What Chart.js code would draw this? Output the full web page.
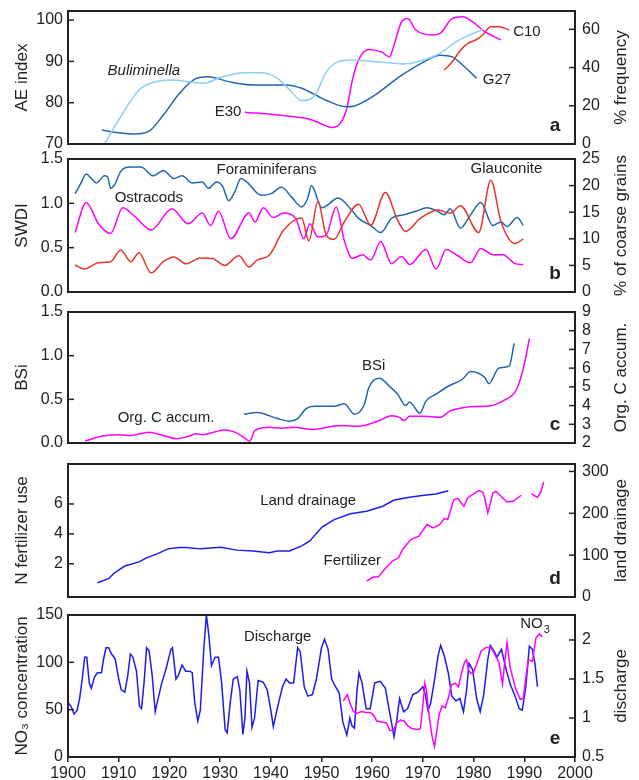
<!DOCTYPE html>
<html>
<head>
<meta charset="utf-8">
<script src="https://cdn.jsdelivr.net/npm/chart.js@4.4.1/dist/chart.umd.min.js"></script>
<style>
  body { margin: 0; background: #fff; }
  #wrap { position: relative; width: 639px; height: 780px; overflow: hidden; }
  #wrap canvas { position: absolute; left: 0; }
</style>
</head>
<body>
<div id="wrap">
  <canvas id="panelA" width="639" height="175"></canvas>
  <canvas id="panelB" width="639" height="175"></canvas>
  <canvas id="panelC" width="639" height="175"></canvas>
  <canvas id="panelD" width="639" height="175"></canvas>
  <canvas id="panelE" width="639" height="185"></canvas>
</div>
<script>
// tick values
var decadeTicks = [1900, 1910, 1920, 1930, 1940, 1950, 1960, 1970, 1980, 1990, 2000];
var aeTicks = [70, 80, 90, 100];
var freqTicks = [0, 20, 40, 60];
var swdiTicks = [0, 0.5, 1, 1.5];
var coarseTicks = [0, 5, 10, 15, 20, 25];
var bsiTicks = [0, 0.5, 1, 1.5];
var orgCTicks = [2, 3, 4, 5, 6, 7, 8, 9];
var fertTicks = [2, 4, 6];
var drainTicks = [0, 100, 200, 300];
var no3Ticks = [0, 50, 100, 150];
var dischTicks = [0.5, 1, 1.5, 2];

// panel a
var g27Year = [1906.7, 1910.0, 1913.2, 1916.0, 1918.8, 1922.0, 1925.3, 1927.7, 1931.7, 1936.5, 1942.9, 1946.1, 1950.9, 1954.9, 1956.5, 1960.6, 1965.4, 1970.2, 1973.4, 1975.8, 1978.2, 1980.6];
var g27AE = [73.4, 72.7, 72.4, 73.1, 77.0, 82.3, 85.9, 86.3, 85.1, 84.3, 84.3, 83.5, 80.6, 79.0, 79.2, 81.9, 86.3, 89.9, 91.5, 91.1, 88.7, 85.9];
var bulimYear = [1907.2, 1910.8, 1914.0, 1917.2, 1920.5, 1923.7, 1926.9, 1930.1, 1934.9, 1938.1, 1941.3, 1943.7, 1946.1, 1948.5, 1951.0, 1953.3, 1955.7, 1960.6, 1966.2, 1970.2, 1973.4, 1976.6, 1981.8];
var bulimFreq = [0, 16.1, 28.3, 32.6, 33.5, 32.6, 31.8, 34.9, 37.3, 37.3, 34.4, 28.3, 22.7, 24.8, 37.9, 43.1, 44.0, 43.1, 41.9, 44.0, 47.5, 53.6, 60.0];
var e30Year = [1934.9, 1941.3, 1947.7, 1950.1, 1952.1, 1953.7, 1954.9, 1956.1, 1957.3, 1959.3, 1961.8, 1963.4, 1964.2, 1965.8, 1967.0, 1968.6, 1971.8, 1973.4, 1975.8, 1977.8, 1979.8, 1982.2, 1985.4];
var e30AE = [77.7, 77.0, 76.0, 74.8, 74.0, 75.0, 78.2, 85.5, 90.3, 92.9, 92.3, 91.1, 93.5, 99.6, 100.4, 97.6, 96.4, 96.8, 100.4, 100.8, 99.6, 97.2, 95.2];
var c10Year = [1974.2, 1975.8, 1977.4, 1979.0, 1980.6, 1981.8, 1983.4, 1985.0, 1987.0];
var c10AE = [87.9, 89.9, 92.7, 94.4, 95.3, 96.4, 98.4, 98.4, 97.6];

// panel b
var foramYear = [1901.4, 1902.4, 1903.6, 1904.6, 1905.6, 1907.2, 1907.8, 1908.4, 1909.2, 1910.4, 1912.4, 1914.4, 1916.8, 1918.8, 1920.9, 1922.5, 1924.5, 1926.5, 1927.7, 1929.3, 1930.5, 1931.7, 1932.9, 1934.1, 1935.3, 1938.1, 1940.1, 1942.1, 1944.1, 1946.1, 1947.3, 1948.0, 1950.1, 1953.3, 1955.7, 1957.3, 1959.7, 1961.7, 1963.8, 1966.2, 1968.6, 1970.8, 1972.9, 1974.2, 1975.4, 1977.4, 1979.4, 1981.4, 1983.8, 1985.4, 1986.6, 1988.6, 1989.8];
var foramSWDI = [1.11, 1.21, 1.33, 1.28, 1.23, 1.31, 1.30, 1.17, 1.21, 1.36, 1.41, 1.41, 1.31, 1.37, 1.28, 1.31, 1.23, 1.24, 1.17, 1.24, 1.19, 1.03, 1.13, 1.28, 1.24, 1.09, 1.11, 1.18, 1.07, 0.96, 1.06, 1.20, 0.95, 1.06, 0.94, 0.83, 0.75, 0.67, 0.83, 0.87, 0.91, 0.95, 0.91, 0.87, 0.94, 0.72, 0.87, 1.01, 0.75, 0.79, 0.74, 0.84, 0.75];
var ostraYear = [1901.4, 1903.6, 1906.0, 1908.4, 1910.8, 1913.2, 1916.4, 1920.5, 1923.7, 1926.5, 1928.1, 1929.7, 1932.1, 1935.7, 1936.9, 1938.5, 1940.5, 1942.5, 1944.9, 1946.5, 1947.7, 1949.3, 1950.9, 1952.9, 1954.5, 1956.1, 1958.1, 1959.7, 1961.7, 1963.8, 1965.8, 1967.4, 1970.6, 1972.6, 1974.6, 1976.6, 1979.4, 1981.4, 1983.8, 1985.8, 1988.2, 1989.8];
var ostraSWDI = [0.67, 1.01, 0.77, 0.66, 0.95, 0.85, 0.70, 0.94, 0.77, 0.89, 0.75, 0.91, 0.60, 0.89, 0.79, 0.95, 0.84, 0.89, 0.83, 0.60, 0.77, 0.62, 0.64, 0.96, 0.58, 0.38, 0.42, 0.36, 0.57, 0.32, 0.40, 0.31, 0.48, 0.26, 0.48, 0.42, 0.33, 0.49, 0.42, 0.42, 0.32, 0.31];
var glaucYear = [1901.4, 1903.2, 1906.0, 1908.4, 1910.4, 1912.4, 1914.0, 1916.4, 1918.8, 1920.9, 1923.3, 1926.1, 1928.5, 1930.9, 1933.7, 1935.7, 1937.3, 1939.7, 1942.5, 1946.1, 1947.5, 1949.3, 1950.9, 1952.5, 1954.5, 1957.3, 1959.7, 1962.6, 1965.0, 1966.6, 1969.4, 1973.0, 1975.4, 1977.4, 1981.0, 1983.4, 1985.4, 1988.2, 1989.8];
var glaucPct = [5.1, 4.3, 5.5, 5.7, 7.9, 5.7, 7.4, 3.6, 5.7, 6.6, 5.3, 6.4, 6.3, 5.0, 6.8, 4.7, 6.0, 6.9, 11.6, 13.9, 9.6, 17.0, 10.8, 9.9, 13.2, 16.5, 12.6, 18.7, 13.5, 11.4, 13.8, 15.4, 14.8, 16.2, 11.2, 21.0, 13.2, 9.1, 10.0];

// panel c
var bsiYear = [1934.7, 1937.3, 1941.3, 1943.7, 1945.3, 1946.9, 1948.5, 1952.5, 1954.5, 1956.5, 1958.5, 1959.3, 1961.4, 1963.4, 1965.0, 1966.6, 1967.4, 1968.2, 1969.4, 1970.6, 1972.6, 1975.0, 1977.8, 1979.4, 1982.2, 1983.0, 1985.0, 1987.0, 1988.0];
var bsiVal = [0.33, 0.35, 0.28, 0.25, 0.28, 0.39, 0.42, 0.42, 0.45, 0.33, 0.45, 0.63, 0.74, 0.65, 0.56, 0.43, 0.47, 0.42, 0.34, 0.48, 0.56, 0.65, 0.73, 0.82, 0.75, 0.68, 0.86, 0.88, 1.14];
var orgCYear = [1903.4, 1906.8, 1910.0, 1912.4, 1916.0, 1918.8, 1921.3, 1923.7, 1925.3, 1926.5, 1930.9, 1932.9, 1934.9, 1935.8, 1936.9, 1939.7, 1942.1, 1944.5, 1948.5, 1950.1, 1953.7, 1957.3, 1961.4, 1963.8, 1965.4, 1966.2, 1967.4, 1970.2, 1973.4, 1975.4, 1978.2, 1980.6, 1983.4, 1985.8, 1988.2, 1989.0, 1990.2, 1991.0];
var orgCVal = [2.11, 2.37, 2.44, 2.40, 2.58, 2.40, 2.23, 2.35, 2.49, 2.44, 2.70, 2.58, 2.26, 2.09, 2.67, 2.84, 2.79, 2.84, 2.72, 2.79, 2.93, 2.90, 3.20, 3.46, 3.37, 3.20, 3.43, 3.43, 3.37, 3.72, 3.90, 3.95, 3.99, 4.25, 4.73, 5.22, 6.45, 7.59];

// panel d
var drainYear = [1905.8, 1908.0, 1909.2, 1911.2, 1914.0, 1915.6, 1917.6, 1919.7, 1922.0, 1923.3, 1926.1, 1930.1, 1933.3, 1936.5, 1939.7, 1941.3, 1943.7, 1946.1, 1947.7, 1950.1, 1952.5, 1955.7, 1958.9, 1962.1, 1964.2, 1967.0, 1970.2, 1972.6, 1975.0];
var drainVal = [34, 44, 58, 74, 84, 94, 103, 115, 118, 118, 115, 119, 112, 110, 106, 110, 110, 122, 134, 167, 185, 199, 205, 217, 231, 238, 243, 246, 254];
var fertYear = [1958.9, 1960.2, 1961.2, 1962.4, 1964.0, 1965.2, 1966.0, 1967.6, 1969.2, 1970.8, 1972.0, 1973.3, 1974.2, 1974.9, 1976.1, 1976.9, 1978.1, 1978.8, 1979.8, 1981.0, 1981.8, 1982.2, 1982.8, 1983.8, 1984.4, 1985.4, 1986.6, 1987.8, 1989.4, 1990.4, 1991.4, 1992.6, 1993.3, 1993.8];
var fertVal = [0.84, 1.11, 1.11, 1.62, 2.18, 2.40, 2.96, 3.62, 3.84, 4.62, 4.40, 4.62, 5.02, 4.96, 6.29, 6.36, 5.84, 6.40, 6.62, 6.89, 6.80, 6.40, 5.40, 6.73, 6.84, 6.51, 6.13, 6.18, 6.58, null, 6.67, 6.44, 6.84, 7.47];

// panel e
var dischYear = [1900.0, 1900.6, 1901.2, 1901.8, 1902.3, 1902.8, 1903.3, 1903.7, 1904.2, 1904.6, 1905.2, 1905.8, 1906.6, 1907.0, 1907.5, 1908.0, 1908.6, 1909.3, 1910.0, 1910.5, 1911.2, 1911.8, 1912.3, 1912.8, 1913.5, 1914.1, 1914.5, 1915.0, 1915.5, 1916.0, 1916.6, 1917.2, 1917.6, 1918.5, 1919.3, 1920.3, 1920.6, 1921.3, 1921.8, 1922.5, 1923.2, 1924.0, 1924.5, 1925.0, 1925.6, 1926.1, 1926.8, 1927.3, 1927.8, 1928.3, 1929.0, 1929.7, 1930.3, 1931.0, 1931.4, 1932.0, 1932.6, 1933.4, 1933.9, 1934.5, 1934.9, 1935.3, 1935.8, 1936.3, 1936.8, 1937.5, 1938.5, 1939.3, 1940.0, 1940.5, 1941.2, 1942.3, 1943.0, 1943.7, 1944.5, 1945.3, 1945.8, 1946.6, 1947.3, 1948.2, 1949.0, 1950.0, 1950.6, 1951.3, 1952.0, 1952.6, 1953.5, 1954.2, 1955.0, 1955.6, 1956.0, 1956.5, 1957.0, 1957.4, 1958.0, 1958.8, 1959.6, 1960.5, 1961.6, 1962.6, 1963.5, 1964.3, 1964.8, 1965.4, 1966.2, 1967.0, 1968.0, 1969.0, 1970.0, 1970.5, 1971.0, 1971.5, 1972.2, 1973.0, 1973.5, 1974.2, 1975.0, 1975.7, 1976.5, 1977.3, 1978.0, 1978.6, 1979.1, 1979.8, 1980.6, 1981.3, 1982.0, 1982.8, 1983.3, 1984.0, 1984.6, 1985.5, 1986.5, 1987.3, 1988.2, 1989.0, 1989.6, 1990.3, 1991.0, 1991.6, 1992.1, 1992.6];
var dischVal = [1.20, 1.15, 1.05, 1.10, 1.25, 1.50, 1.78, 1.78, 1.45, 1.38, 1.52, 1.58, 1.58, 1.75, 1.90, 1.90, 1.82, 1.76, 1.50, 1.36, 1.33, 1.55, 1.82, 1.78, 1.60, 1.15, 1.12, 1.45, 1.90, 1.86, 1.55, 1.08, 1.20, 1.45, 1.62, 1.88, 1.90, 1.50, 1.55, 1.68, 1.60, 1.60, 1.58, 1.20, 0.96, 1.10, 1.90, 2.32, 2.05, 1.67, 1.78, 1.78, 1.45, 0.85, 0.81, 1.20, 1.50, 1.53, 1.35, 0.79, 1.00, 1.60, 1.45, 0.88, 1.00, 1.48, 1.46, 1.36, 1.10, 0.89, 1.10, 1.40, 1.50, 1.45, 1.45, 1.90, 1.85, 1.40, 1.28, 1.30, 1.50, 1.90, 2.01, 1.88, 1.50, 1.42, 1.32, 0.95, 0.78, 1.00, 0.90, 0.87, 1.35, 1.58, 1.45, 1.12, 1.12, 1.45, 1.47, 1.38, 1.05, 0.76, 0.95, 1.25, 1.08, 1.12, 1.30, 1.33, 1.40, 1.30, 1.10, 1.18, 1.45, 1.80, 1.93, 1.80, 1.58, 1.28, 1.22, 1.25, 1.08, 1.35, 1.70, 1.62, 1.25, 1.08, 1.30, 1.75, 1.93, 1.86, 1.78, 1.88, 1.60, 1.42, 1.28, 1.12, 1.10, 1.40, 1.92, 1.88, 1.70, 1.40];
var no3Year = [1954.3, 1955.1, 1955.6, 1956.3, 1957.0, 1957.8, 1958.8, 1959.6, 1960.3, 1960.9, 1962.0, 1962.8, 1963.5, 1964.2, 1964.8, 1965.6, 1966.3, 1967.0, 1967.8, 1968.8, 1969.5, 1970.0, 1970.4, 1970.7, 1971.2, 1971.8, 1972.3, 1972.8, 1973.2, 1973.8, 1974.4, 1975.0, 1975.6, 1976.4, 1977.0, 1977.6, 1978.2, 1978.6, 1979.0, 1979.5, 1980.0, 1980.6, 1981.5, 1982.5, 1983.5, 1984.2, 1985.0, 1985.7, 1986.2, 1986.6, 1987.2, 1987.7, 1988.3, 1989.2, 1989.8, 1990.4, 1990.8, 1991.6, 1992.3, 1993.0, 1993.5];
var no3Val = [59, 66, 57, 48, 46, 48, 47, 47, 44, 38, 37, 36, 28, 28, 36, 39, 38, 33, 30, 29, 30, 55, 78, 70, 45, 22, 11, 30, 45, 54, 52, 62, 76, 78, 74, 88, 100, 103, 92, 88, 90, 98, 112, 116, 115, 108, 100, 77, 103, 121, 95, 84, 72, 61, 62, 88, 103, 101, 126, 130, 127];

var FONT = '"Liberation Sans", Arial, sans-serif';
var INK = '#222';
var darkBlue = '#2166b0';
var lightBlue = '#8ccff1';
var magenta = '#ff00ff';
var red = '#e6352b';
var pureBlue = '#1c1cee';

function pts(xs, ys) {
  return xs.map(function(x, i) { return { x: x, y: ys[i] }; });
}

// frame, inward ticks, right-hand title, panel letter and curve labels
var panelDecor = {
  id: 'panelDecor',
  afterDraw: function(chart, args, opts) {
    var ctx = chart.ctx, a = chart.chartArea;
    ctx.save();
    ctx.strokeStyle = INK;
    ctx.lineWidth = 1.5;
    ['yL', 'yR'].forEach(function(id) {
      var s = chart.scales[id];
      s.ticks.forEach(function(t) {
        var y = s.getPixelForValue(t.value);
        if (y < a.top + 2 || y > a.bottom - 2) return;
        ctx.beginPath();
        if (id === 'yL') { ctx.moveTo(a.left, y); ctx.lineTo(a.left + 6, y); }
        else { ctx.moveTo(a.right, y); ctx.lineTo(a.right - 6, y); }
        ctx.stroke();
      });
    });
    ctx.lineWidth = 2;
    ctx.strokeRect(a.left, a.top, a.right - a.left, a.bottom - a.top);

    ctx.fillStyle = INK;
    ctx.save();
    ctx.translate(621, (a.top + a.bottom) / 2);
    ctx.rotate(-Math.PI / 2);
    ctx.font = '17px ' + FONT;
    ctx.textAlign = 'center';
    ctx.textBaseline = 'middle';
    ctx.fillText(opts.rightTitle, 0, 0);
    ctx.restore();

    ctx.font = 'bold 19px ' + FONT;
    ctx.textAlign = 'center';
    ctx.textBaseline = 'middle';
    ctx.fillText(opts.letter, a.right - 20, a.bottom - 18);

    var xs = chart.scales.x;
    (opts.labels || []).forEach(function(l) {
      var x = xs.getPixelForValue(l.year);
      var y = chart.scales[l.axis || 'yL'].getPixelForValue(l.value);
      ctx.font = (l.italic ? 'italic ' : '') + '15px ' + FONT;
      ctx.textAlign = l.align || 'left';
      ctx.textBaseline = 'middle';
      ctx.fillText(l.text, x, y);
      if (l.sub) {
        var w = ctx.measureText(l.text).width;
        ctx.font = '11px ' + FONT;
        ctx.textAlign = 'left';
        ctx.fillText(l.sub, x + w + 1, y + 6);
      }
    });
    ctx.restore();
  }
};

function fixedTicks(values) {
  return function(scale) {
    scale.ticks = values.map(function(v) { return { value: v }; });
  };
}

function yAxis(side, min, max, ticks, decimals, title) {
  var ax = {
    type: 'linear',
    position: side,
    min: min,
    max: max,
    grid: { display: false, drawTicks: false },
    border: { display: false },
    afterBuildTicks: fixedTicks(ticks),
    afterFit: function(s) { s.width = side === 'left' ? 68 : 64; },
    ticks: {
      color: INK,
      font: { family: FONT, size: 16 },
      padding: side === 'left' ? 5 : 7,
      autoSkip: false,
      callback: function(v) { return decimals ? v.toFixed(decimals) : String(v); }
    }
  };
  if (title) {
    ax.title = { display: true, text: title, color: INK, font: { family: FONT, size: 17 }, padding: { top: 12, bottom: 0 } };
  }
  return ax;
}

function line(data, color, axis, smooth) {
  return {
    data: data,
    yAxisID: axis,
    borderColor: color,
    borderWidth: 1.5,
    pointRadius: 0,
    fill: false,
    spanGaps: false,
    tension: smooth ? 0.4 : 0,
    cubicInterpolationMode: smooth ? 'monotone' : 'default'
  };
}

// builds the chart twice: the first pass measures the plot area so the
// second one can size and place the canvas to put the frame at top..bottom
function makePanel(id, top, bottom, makeSets, yL, yR, decor, showX) {
  function config() {
    var xAxis = {
      type: 'linear',
      min: 1900,
      max: 2000,
      display: showX,
      afterBuildTicks: fixedTicks(decadeTicks),
      grid: { display: true, drawOnChartArea: false, drawTicks: true, tickLength: 5, color: INK, lineWidth: 1.5 },
      border: { display: false },
      ticks: { color: INK, font: { family: FONT, size: 16 }, padding: 2, maxRotation: 0, autoSkip: false,
               callback: function(v) { return String(v); } }
    };
    if (showX) xAxis.afterFit = function(s) { s.height = 23; };
    return {
      type: 'line',
      data: { datasets: makeSets() },
      options: {
        responsive: false,
        animation: false,
        layout: { padding: { top: 24, bottom: showX ? 0 : 24, left: 0, right: 0 } },
        scales: { x: xAxis, yL: yL(), yR: yR() },
        plugins: { legend: { display: false }, tooltip: { enabled: false }, panelDecor: decor }
      },
      plugins: [panelDecor]
    };
  }
  var canvas = document.getElementById(id);
  var h0 = canvas.height;
  var chart = new Chart(canvas, config());
  var a = chart.chartArea;
  var dh = Math.round((bottom - top) - (a.bottom - a.top));
  chart.destroy();
  canvas.height = h0 + dh;
  chart = new Chart(canvas, config());
  canvas.style.top = Math.round(top - chart.chartArea.top) + 'px';
  return chart;
}

makePanel('panelA', 11, 144, function() { return [
  line(pts(bulimYear, bulimFreq), lightBlue, 'yR', true),
  line(pts(g27Year, g27AE), darkBlue, 'yL', true),
  line(pts(e30Year, e30AE), magenta, 'yL', true),
  line(pts(c10Year, c10AE), red, 'yL', true)
]; }, function() { return yAxis('left', 70, 102.2, aeTicks, 0, 'AE index'); },
   function() { return yAxis('right', 0, 69.6, freqTicks, 0, null); },
   { letter: 'a', rightTitle: '% frequency', labels: [
     { text: 'Buliminella', year: 1907.8, value: 87.7, italic: true },
     { text: 'E30', year: 1934.2, value: 77.8, align: 'right' },
     { text: 'G27', year: 1981.8, value: 85.5 },
     { text: 'C10', year: 1987.8, value: 97.2 }
   ] }, false);

makePanel('panelB', 159, 292, function() { return [
  line(pts(glaucYear, glaucPct), red, 'yR', true),
  line(pts(ostraYear, ostraSWDI), magenta, 'yL', true),
  line(pts(foramYear, foramSWDI), darkBlue, 'yL', true)
]; }, function() { return yAxis('left', 0, 1.5, swdiTicks, 1, 'SWDI'); },
   function() { return yAxis('right', 0, 25, coarseTicks, 0, null); },
   { letter: 'b', rightTitle: '% of coarse grains', labels: [
     { text: 'Foraminiferans', year: 1929.3, value: 1.376 },
     { text: 'Ostracods', year: 1909.2, value: 1.063 },
     { text: 'Glauconite', year: 1979.4, value: 1.387 }
   ] }, false);

makePanel('panelC', 312, 443, function() { return [
  line(pts(orgCYear, orgCVal), magenta, 'yR', true),
  line(pts(bsiYear, bsiVal), darkBlue, 'yL', true)
]; }, function() { return yAxis('left', 0, 1.5, bsiTicks, 1, 'BSi'); },
   function() { return yAxis('right', 2, 9, orgCTicks, 0, null); },
   { letter: 'c', rightTitle: 'Org. C accum.', labels: [
     { text: 'BSi', year: 1958.0, value: 0.878 },
     { text: 'Org. C accum.', year: 1909.8, value: 0.286 }
   ] }, false);

makePanel('panelD', 464, 597, function() { return [
  line(pts(drainYear, drainVal), pureBlue, 'yR', false),
  line(pts(fertYear, fertVal), magenta, 'yL', false)
]; }, function() { return yAxis('left', -0.22, 8.67, fertTicks, 0, 'N fertilizer use'); },
   function() { return yAxis('right', 0, 317.8, drainTicks, 0, null); },
   { letter: 'd', rightTitle: 'land drainage', labels: [
     { text: 'Land drainage', year: 1937.9, value: 6.18 },
     { text: 'Fertilizer', year: 1950.4, value: 2.22 }
   ] }, false);

makePanel('panelE', 615, 757, function() { return [
  line(pts(no3Year, no3Val), magenta, 'yL', false),
  line(pts(dischYear, dischVal), pureBlue, 'yR', false)
]; }, function() { return yAxis('left', 0, 150, no3Ticks, 0, 'NO\u2083 concentration'); },
   function() { return yAxis('right', 0.5, 2.32, dischTicks, 0, null); },
   { letter: 'e', rightTitle: 'discharge', labels: [
     { text: 'Discharge', year: 1934.7, value: 127.2 },
     { text: 'NO', sub: '3', year: 1989.2, value: 140.2 }
   ] }, true);
</script>
</body>
</html>
